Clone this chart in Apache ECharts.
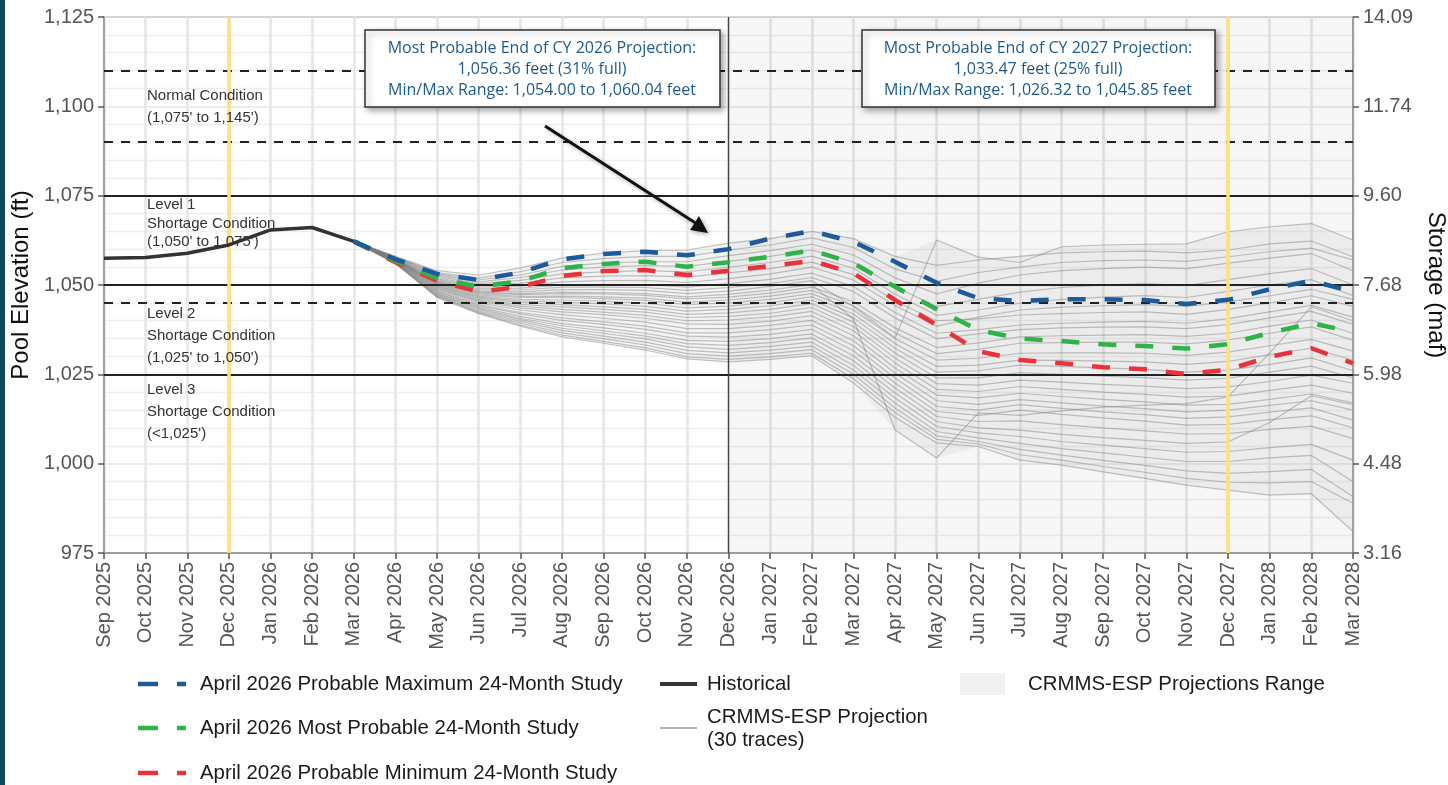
<!DOCTYPE html>
<html>
<head>
<meta charset="utf-8">
<title>Lake Mead 24-Month Study Projections</title>
<script src="https://cdn.jsdelivr.net/npm/echarts@6/dist/echarts.min.js"></script>
<style>
  html, body { margin: 0; padding: 0; background: #fff; }
  #chart { width: 1448px; height: 785px; }
</style>
</head>
<body>
<div id="chart"></div>
<script>
// months on the x axis
const months = ['Sep 2025', 'Oct 2025', 'Nov 2025', 'Dec 2025', 'Jan 2026', 'Feb 2026', 'Mar 2026',
  'Apr 2026', 'May 2026', 'Jun 2026', 'Jul 2026', 'Aug 2026', 'Sep 2026', 'Oct 2026', 'Nov 2026',
  'Dec 2026', 'Jan 2027', 'Feb 2027', 'Mar 2027', 'Apr 2027', 'May 2027', 'Jun 2027', 'Jul 2027',
  'Aug 2027', 'Sep 2027', 'Oct 2027', 'Nov 2027', 'Dec 2027', 'Jan 2028', 'Feb 2028', 'Mar 2028'];

const elevationTicks = [975, 1000, 1025, 1050, 1075, 1100, 1125];
const storageLabels = ['3.16', '4.48', '5.98', '7.68', '9.60', '11.74', '14.09'];

// Sep 2025 .. Mar 2026
const historical = [1057.5, 1057.7, 1058.9, 1061.2, 1065.4, 1066.1, 1062.2];

// projections start at Mar 2026 (index 6)
const projStart = 6;
const probMax = [1062.2, 1057.2, 1053.1, 1051.4, 1053.5, 1057.2, 1058.7, 1059.3, 1058.3, 1060.04, 1063.0, 1065.1, 1062.1,
  1056.5, 1050.6, 1046.3, 1045.5, 1046.0, 1046.0, 1045.8, 1044.7, 1045.85, 1048.8, 1051.2, 1048.1];
const mostProb = [1062.2, 1056.8, 1051.9, 1049.5, 1051.1, 1054.7, 1055.9, 1056.5, 1055.1, 1056.36, 1057.9, 1059.7, 1056.1,
  1049.5, 1043.2, 1037.4, 1035.0, 1034.3, 1033.4, 1032.9, 1032.2, 1033.47, 1036.6, 1039.3, 1036.9];
const probMin = [1062.2, 1056.4, 1051.2, 1048.1, 1049.5, 1052.5, 1053.9, 1054.2, 1052.8, 1054.00, 1055.3, 1056.8, 1053.3,
  1045.8, 1038.8, 1031.5, 1029.0, 1028.1, 1027.0, 1026.4, 1025.1, 1026.32, 1029.9, 1032.3, 1028.1];

// CRMMS-ESP traces, Mar 2026 .. Mar 2028
const trace01 = [1062.2, 1058.0, 1054.0, 1052.8, 1054.8, 1057.5, 1058.9, 1059.6, 1059.8, 1061.7, 1063.0, 1065.0, 1063.0, 1058.0, 1055.5, 1057.0, 1058.0, 1059.0, 1059.3, 1059.5, 1059.0, 1059.8, 1061.5, 1062.3, 1057.9];
const trace02 = [1062.2, 1057.9, 1053.5, 1051.9, 1053.7, 1056.3, 1057.4, 1058.0, 1058.0, 1059.8, 1061.2, 1063.2, 1060.5, 1054.5, 1051.0, 1053.5, 1055.0, 1056.3, 1056.8, 1057.0, 1056.6, 1057.9, 1059.3, 1060.3, 1057.0];
const trace03 = [1062.2, 1057.8, 1053.2, 1051.4, 1052.8, 1055.2, 1056.1, 1056.5, 1056.5, 1058.2, 1059.6, 1061.4, 1058.4, 1052.0, 1047.5, 1050.5, 1052.8, 1054.0, 1054.6, 1055.0, 1054.6, 1056.1, 1057.5, 1058.8, 1054.0];
const trace04 = [1062.2, 1057.7, 1052.9, 1050.9, 1052.1, 1054.2, 1055.0, 1055.4, 1055.2, 1056.6, 1058.0, 1059.8, 1056.4, 1049.5, 1044.0, 1046.0, 1048.0, 1049.3, 1050.0, 1050.4, 1049.8, 1051.5, 1053.2, 1054.6, 1050.0];
const trace05 = [1062.2, 1057.6, 1052.5, 1050.4, 1051.3, 1053.1, 1053.7, 1054.0, 1053.7, 1055.0, 1056.3, 1058.1, 1054.7, 1047.5, 1041.5, 1043.0, 1044.9, 1046.0, 1046.6, 1047.0, 1046.5, 1048.2, 1050.0, 1051.5, 1047.0];
const trace06 = [1062.2, 1057.5, 1052.1, 1049.9, 1050.5, 1052.0, 1052.5, 1052.6, 1052.2, 1053.4, 1054.6, 1056.4, 1052.9, 1045.5, 1040.0, 1040.5, 1041.6, 1042.0, 1042.3, 1042.5, 1041.8, 1043.2, 1045.0, 1047.0, 1044.0];
const trace07 = [1062.2, 1057.4, 1051.8, 1049.4, 1049.7, 1050.9, 1051.2, 1051.3, 1050.7, 1051.8, 1053.1, 1055.0, 1051.4, 1044.2, 1038.5, 1041.0, 1043.0, 1043.8, 1044.2, 1044.5, 1044.0, 1045.3, 1047.0, 1048.8, 1046.0];
const trace08 = [1062.2, 1057.3, 1051.5, 1048.9, 1049.1, 1050.0, 1050.2, 1050.1, 1049.4, 1050.4, 1051.6, 1053.3, 1049.6, 1042.3, 1036.5, 1037.5, 1038.8, 1039.3, 1039.6, 1039.8, 1039.3, 1040.6, 1042.5, 1044.3, 1041.0];
const trace09 = [1062.2, 1057.3, 1051.2, 1048.6, 1048.6, 1049.4, 1049.4, 1049.3, 1048.5, 1049.3, 1050.4, 1052.1, 1048.2, 1040.8, 1035.0, 1036.3, 1037.5, 1038.0, 1038.2, 1038.3, 1037.8, 1038.9, 1040.8, 1042.6, 1039.0];
const trace10 = [1062.2, 1057.2, 1051.0, 1048.3, 1048.1, 1048.7, 1048.7, 1048.5, 1047.6, 1048.3, 1049.6, 1051.2, 1044.0, 1035.2, 1062.6, 1057.8, 1056.3, 1060.7, 1061.2, 1061.4, 1061.5, 1064.9, 1066.3, 1067.2, 1062.6];
const trace11 = [1062.2, 1057.1, 1050.8, 1048.0, 1047.6, 1048.0, 1047.9, 1047.6, 1046.7, 1047.4, 1048.6, 1050.1, 1040.5, 1009.4, 1001.6, 1014.2, 1013.5, 1014.8, 1015.8, 1016.4, 1016.8, 1018.7, 1031.0, 1043.9, 1040.0];
const trace12 = [1062.2, 1057.1, 1050.6, 1047.8, 1047.3, 1047.6, 1047.5, 1047.1, 1046.1, 1046.6, 1047.7, 1049.4, 1045.3, 1038.0, 1032.5, 1033.8, 1035.5, 1035.8, 1036.0, 1036.1, 1035.6, 1036.5, 1038.5, 1040.2, 1036.5];
const trace13 = [1062.2, 1057.0, 1050.4, 1047.5, 1046.8, 1046.9, 1046.7, 1046.3, 1045.2, 1045.8, 1046.9, 1048.5, 1044.2, 1036.6, 1030.8, 1032.0, 1033.7, 1033.9, 1034.0, 1034.0, 1033.5, 1034.6, 1036.5, 1038.3, 1034.5];
const trace14 = [1062.2, 1057.0, 1050.2, 1047.2, 1046.5, 1046.5, 1046.2, 1045.7, 1044.5, 1045.0, 1046.0, 1047.6, 1043.0, 1035.0, 1029.0, 1029.5, 1030.9, 1031.0, 1031.0, 1030.9, 1030.3, 1031.2, 1033.0, 1034.8, 1031.5];
const trace15 = [1062.2, 1056.9, 1050.0, 1046.9, 1046.0, 1045.8, 1045.5, 1044.9, 1043.6, 1044.1, 1045.1, 1046.7, 1041.9, 1033.6, 1027.2, 1027.6, 1029.0, 1028.9, 1028.7, 1028.5, 1027.8, 1028.6, 1030.5, 1032.3, 1029.0];
const trace16 = [1062.2, 1056.9, 1049.8, 1046.6, 1045.5, 1045.2, 1044.7, 1044.0, 1042.7, 1043.2, 1044.2, 1045.8, 1040.8, 1032.3, 1025.6, 1026.0, 1027.6, 1027.2, 1026.8, 1026.4, 1025.6, 1026.2, 1027.8, 1029.6, 1026.0];
const trace17 = [1062.2, 1056.8, 1049.6, 1046.3, 1045.1, 1044.5, 1043.9, 1043.2, 1041.8, 1042.2, 1043.2, 1044.8, 1039.6, 1031.0, 1024.0, 1024.0, 1025.5, 1025.0, 1024.5, 1024.1, 1023.4, 1023.9, 1025.6, 1027.3, 1024.0];
const trace18 = [1062.2, 1056.8, 1049.4, 1046.0, 1044.6, 1043.9, 1043.2, 1042.4, 1040.9, 1041.2, 1042.1, 1043.7, 1038.4, 1029.6, 1022.4, 1022.0, 1023.4, 1022.8, 1022.2, 1021.7, 1021.0, 1021.5, 1023.0, 1024.8, 1022.5];
const trace19 = [1062.2, 1056.7, 1049.1, 1045.7, 1044.1, 1043.2, 1042.4, 1041.5, 1040.0, 1040.2, 1041.1, 1042.6, 1037.2, 1028.2, 1020.8, 1020.2, 1021.6, 1020.8, 1020.0, 1019.4, 1018.6, 1018.9, 1020.5, 1022.0, 1019.7];
const trace20 = [1062.2, 1056.6, 1048.9, 1045.4, 1043.6, 1042.5, 1041.7, 1040.7, 1039.1, 1039.0, 1039.9, 1041.4, 1035.8, 1026.8, 1019.2, 1018.4, 1019.7, 1018.8, 1018.0, 1017.3, 1016.4, 1016.6, 1018.0, 1019.5, 1017.0];
const trace21 = [1062.2, 1056.6, 1048.6, 1045.0, 1043.0, 1041.7, 1040.7, 1039.6, 1037.8, 1037.8, 1038.7, 1040.1, 1034.4, 1025.4, 1017.6, 1016.6, 1017.9, 1017.0, 1016.1, 1015.4, 1014.5, 1015.0, 1016.3, 1017.6, 1015.0];
const trace22 = [1062.2, 1056.5, 1048.3, 1044.5, 1042.3, 1040.8, 1039.7, 1038.5, 1036.6, 1036.6, 1037.5, 1038.8, 1033.0, 1024.0, 1016.0, 1015.0, 1016.5, 1015.5, 1014.5, 1013.7, 1012.7, 1013.1, 1014.4, 1015.6, 1012.2];
const trace23 = [1062.2, 1056.4, 1048.1, 1044.2, 1041.9, 1040.1, 1039.0, 1037.6, 1035.7, 1035.4, 1036.2, 1037.6, 1031.6, 1022.6, 1014.6, 1013.5, 1015.0, 1013.8, 1012.8, 1011.9, 1010.8, 1011.0, 1012.3, 1013.4, 1010.0];
const trace24 = [1062.2, 1056.3, 1047.8, 1043.8, 1041.2, 1039.2, 1038.0, 1036.5, 1034.5, 1034.2, 1035.0, 1036.3, 1030.2, 1021.2, 1013.2, 1011.8, 1012.0, 1010.9, 1010.0, 1009.2, 1008.3, 1008.4, 1009.6, 1010.5, 1007.0];
const trace25 = [1062.2, 1056.3, 1047.6, 1043.5, 1040.7, 1038.6, 1037.2, 1035.7, 1033.6, 1033.1, 1033.9, 1035.2, 1028.8, 1019.8, 1011.8, 1010.0, 1009.4, 1008.2, 1007.3, 1006.5, 1005.7, 1006.1, 1011.5, 1019.0, 1016.5];
const trace26 = [1062.2, 1056.2, 1047.3, 1043.2, 1040.3, 1037.9, 1036.5, 1034.9, 1032.7, 1032.0, 1032.8, 1034.0, 1027.5, 1018.4, 1010.4, 1008.6, 1007.6, 1006.2, 1005.2, 1004.2, 1003.2, 1003.4, 1004.5, 1005.4, 1001.0];
const trace27 = [1062.2, 1056.2, 1047.1, 1042.8, 1039.8, 1037.3, 1035.7, 1034.0, 1031.7, 1031.0, 1031.8, 1032.9, 1026.2, 1017.0, 1009.0, 1007.2, 1005.7, 1004.2, 1003.0, 1001.8, 1000.6, 1000.6, 1001.6, 1002.3, 995.0];
const trace28 = [1062.2, 1056.1, 1046.9, 1042.5, 1039.3, 1036.6, 1035.0, 1033.2, 1030.8, 1030.1, 1030.8, 1031.9, 1025.0, 1015.6, 1007.8, 1006.2, 1004.0, 1002.4, 1000.9, 999.5, 998.0, 997.3, 997.8, 998.4, 990.8];
const trace29 = [1062.2, 1056.0, 1046.7, 1042.2, 1038.8, 1036.0, 1034.2, 1032.4, 1029.9, 1029.2, 1029.9, 1030.9, 1023.8, 1014.3, 1006.8, 1005.5, 1002.5, 1001.0, 999.2, 997.6, 995.9, 994.8, 994.6, 995.0, 988.9];
const trace30 = [1062.2, 1056.0, 1046.5, 1042.0, 1038.5, 1035.5, 1033.7, 1031.8, 1029.3, 1028.5, 1029.2, 1030.2, 1022.6, 1013.0, 1005.8, 1004.8, 1001.0, 999.6, 997.7, 995.9, 994.0, 992.6, 991.2, 991.6, 981.0];

const traces = [trace01, trace02, trace03, trace04, trace05, trace06, trace07, trace08, trace09, trace10,
  trace11, trace12, trace13, trace14, trace15, trace16, trace17, trace18, trace19, trace20,
  trace21, trace22, trace23, trace24, trace25, trace26, trace27, trace28, trace29, trace30];

// condition thresholds
const solidLevels = [1075, 1050, 1025];
const dashedLevels = [1110, 1090, 1045];

const FONT = '"Liberation Sans", Arial, sans-serif';
const BOXFONT = '"Open Sans", "Noto Sans", sans-serif';

const pad = (arr) => months.map((m, i) => (i < projStart ? null : arr[i - projStart]));
const thousands = (v) => String(v).replace(/\B(?=(\d{3})+(?!\d))/g, ',');

// range band from the traces
const bandLow = months.map((m, i) => (i < projStart ? null : Math.min(...traces.map(t => t[i - projStart]))));
const bandSpan = months.map((m, i) => (i < projStart ? null : Math.max(...traces.map(t => t[i - projStart])) - bandLow[i]));

const chart = echarts.init(document.getElementById('chart'));

const traceSeries = traces.map((t) => ({
  name: 'CRMMS-ESP Projection',
  type: 'line',
  data: pad(t),
  symbol: 'none',
  z: 3,
  lineStyle: { color: 'rgba(125,125,125,0.45)', width: 1.2 },
  silent: true
}));

const refLines = [];
solidLevels.forEach(v => refLines.push({ yAxis: v, lineStyle: { color: '#222', width: 2, type: 'solid' } }));
dashedLevels.forEach(v => refLines.push({ yAxis: v, lineStyle: { color: '#222', width: 1.8, type: [9, 8] } }));
refLines.push({ xAxis: 'Dec 2025', lineStyle: { color: '#ffdf80', width: 3.5, type: 'solid' } });
refLines.push({ xAxis: 'Dec 2027', lineStyle: { color: '#ffdf80', width: 3.5, type: 'solid' } });
refLines.push({ xAxis: 'Dec 2026', lineStyle: { color: '#444', width: 1.3, type: 'solid' } });

const dashed = (name, data, color, z) => ({
  name: name,
  type: 'line',
  data: pad(data),
  symbol: 'none',
  z: z,
  lineStyle: { color: color, width: 4.5, type: [18, 19] }
});

const text = (x, y, str, size, color) => ({
  type: 'text', z: 100,
  style: { x: x, y: y, text: str, font: size + 'px ' + FONT, fill: color || '#222',
    textAlign: 'left', textVerticalAlign: 'middle', align: 'left', verticalAlign: 'middle' }
});

const ctext = (x, y, str) => ({
  type: 'text', z: 102,
  style: { x: x, y: y, text: str, font: '16px ' + BOXFONT, fill: '#1d5a8c',
    textAlign: 'center', textVerticalAlign: 'middle', align: 'center', verticalAlign: 'middle' }
});

const box = (x, y, w, h) => ({
  type: 'rect', z: 101,
  shape: { x: x, y: y, width: w, height: h },
  style: { fill: '#fff', stroke: '#333', lineWidth: 1.5,
    shadowBlur: 6, shadowColor: 'rgba(0,0,0,0.35)', shadowOffsetX: 3, shadowOffsetY: 3 }
});

const legendLine = (y, color) => ({
  type: 'line', z: 100,
  shape: { x1: 138, y1: y, x2: 186, y2: y },
  style: { stroke: color, lineWidth: 4.5, lineDash: [20, 19] }
});

const graphics = [
  { type: 'rect', z: 100, shape: { x: 0, y: 0, width: 5, height: 785 }, style: { fill: '#0e4a5c' } },
  // annotation boxes
  box(365, 30, 355, 77),
  ctext(542, 48, 'Most Probable End of CY 2026 Projection:'),
  ctext(542, 69, '1,056.36 feet (31% full)'),
  ctext(542, 90, 'Min/Max Range: 1,054.00 to 1,060.04 feet'),
  box(862, 30, 353, 77),
  ctext(1038, 48, 'Most Probable End of CY 2027 Projection:'),
  ctext(1038, 69, '1,033.47 feet (25% full)'),
  ctext(1038, 90, 'Min/Max Range: 1,026.32 to 1,045.85 feet'),
  // arrow
  { type: 'line', z: 100, shape: { x1: 545, y1: 126, x2: 697, y2: 224 },
    style: { stroke: '#111', lineWidth: 3, shadowBlur: 4, shadowColor: 'rgba(0,0,0,0.3)', shadowOffsetX: 2, shadowOffsetY: 2 } },
  { type: 'polygon', z: 100, shape: { points: [[708, 233], [690, 230], [699, 216]] },
    style: { fill: '#111', shadowBlur: 4, shadowColor: 'rgba(0,0,0,0.3)', shadowOffsetX: 2, shadowOffsetY: 2 } },
  // condition labels
  text(147, 96, 'Normal Condition', 15, '#333'),
  text(147, 118, "(1,075' to 1,145')", 15, '#333'),
  text(147, 205, 'Level 1', 15, '#333'),
  text(147, 224, 'Shortage Condition', 15, '#333'),
  text(147, 242, "(1,050' to 1,075')", 15, '#333'),
  text(147, 314, 'Level 2', 15, '#333'),
  text(147, 336, 'Shortage Condition', 15, '#333'),
  text(147, 358, "(1,025' to 1,050')", 15, '#333'),
  text(147, 390, 'Level 3', 15, '#333'),
  text(147, 412, 'Shortage Condition', 15, '#333'),
  text(147, 434, "(<1,025')", 15, '#333'),
  // legend
  legendLine(684, '#1d5a9c'),
  text(200, 684, 'April 2026 Probable Maximum 24-Month Study', 20.4, '#1a1a1a'),
  legendLine(728, '#2db34a'),
  text(200, 728, 'April 2026 Most Probable 24-Month Study', 20.4, '#1a1a1a'),
  legendLine(773, '#e8333c'),
  text(200, 773, 'April 2026 Probable Minimum 24-Month Study', 20.4, '#1a1a1a'),
  { type: 'line', z: 100, shape: { x1: 660, y1: 684, x2: 697, y2: 684 }, style: { stroke: '#333', lineWidth: 4 } },
  text(707, 684, 'Historical', 20.4, '#1a1a1a'),
  { type: 'line', z: 100, shape: { x1: 660, y1: 728, x2: 697, y2: 728 }, style: { stroke: '#999', lineWidth: 1.5 } },
  text(707, 717, 'CRMMS-ESP Projection', 20.4, '#1a1a1a'),
  text(707, 740, '(30 traces)', 20.4, '#1a1a1a'),
  { type: 'rect', z: 100, shape: { x: 960, y: 673, width: 45, height: 22 }, style: { fill: '#f1f1f1' } },
  text(1028, 684, 'CRMMS-ESP Projections Range', 20.4, '#1a1a1a')
];

const option = {
  animation: false,
  backgroundColor: '#fff',
  grid: { left: 104, right: 95, top: 17, bottom: 232, show: true, borderColor: '#8c8c8c', borderWidth: 1.5,
    outerBoundsMode: 'none', containLabel: false },
  xAxis: {
    type: 'category',
    data: months,
    boundaryGap: false,
    axisLine: { lineStyle: { color: '#8c8c8c', width: 1.5 } },
    axisTick: { show: true, interval: 0, length: 6, lineStyle: { color: '#555', width: 1.5 } },
    axisLabel: { interval: 0, rotate: 90, fontSize: 20, color: '#555', margin: 9, fontFamily: FONT },
    splitLine: { show: true, interval: 0, lineStyle: { color: '#e6e6e6', width: 2.5 } }
  },
  yAxis: [
    {
      type: 'value', min: elevationTicks[0], max: elevationTicks[elevationTicks.length - 1], interval: 25,
      position: 'left',
      name: 'Pool Elevation (ft)', nameLocation: 'middle', nameGap: 70, nameRotate: 90,
      nameTextStyle: { fontSize: 24, color: '#111', fontFamily: FONT },
      axisLine: { show: true, lineStyle: { color: '#8c8c8c', width: 1.5 } },
      axisTick: { show: true, length: 6, lineStyle: { color: '#555', width: 1.5 } },
      axisLabel: { fontSize: 20, color: '#555', margin: 10, fontFamily: FONT, formatter: thousands },
      splitLine: { show: true, lineStyle: { color: '#e6e6e6', width: 1.5 } },
      minorTick: { show: false, splitNumber: 5 },
      minorSplitLine: { show: true, lineStyle: { color: '#efefef', width: 1.3 } }
    },
    {
      type: 'value', min: elevationTicks[0], max: elevationTicks[elevationTicks.length - 1], interval: 25,
      position: 'right',
      name: 'Storage (maf)', nameLocation: 'middle', nameGap: 66, nameRotate: -90,
      nameTextStyle: { fontSize: 24, color: '#111', fontFamily: FONT },
      axisLine: { show: true, lineStyle: { color: '#8c8c8c', width: 1.5 } },
      axisTick: { show: true, length: 6, lineStyle: { color: '#555', width: 1.5 } },
      axisLabel: { fontSize: 20, color: '#555', margin: 10, fontFamily: FONT,
        formatter: (v) => storageLabels[elevationTicks.indexOf(v)] },
      splitLine: { show: false }
    }
  ],
  series: [
    {
      name: 'range-low', type: 'line', data: bandLow, stack: 'range', symbol: 'none', z: 1,
      lineStyle: { opacity: 0 }, silent: true,
      markArea: {
        silent: true,
        itemStyle: { color: 'rgba(0,0,0,0.035)' },
        data: [[{ xAxis: 'Dec 2026' }, { xAxis: 'Mar 2028' }]]
      }
    },
    {
      name: 'CRMMS-ESP Projections Range', type: 'line', data: bandSpan, stack: 'range', symbol: 'none', z: 2,
      lineStyle: { opacity: 0 }, areaStyle: { color: 'rgba(200,200,200,0.3)' }, silent: true
    },
    ...traceSeries,
    {
      name: 'reference', type: 'line', data: [], z: 4, silent: true,
      markLine: { silent: true, symbol: ['none', 'none'], label: { show: false }, data: refLines }
    },
    {
      name: 'Historical', type: 'line', data: historical, symbol: 'none', z: 5,
      lineStyle: { color: '#333', width: 3.5 }
    },
    dashed('April 2026 Probable Minimum 24-Month Study', probMin, '#e8333c', 6),
    dashed('April 2026 Most Probable 24-Month Study', mostProb, '#2db34a', 7),
    dashed('April 2026 Probable Maximum 24-Month Study', probMax, '#1d5a9c', 8)
  ],
  graphic: graphics
};

chart.setOption(option);
window.onresize = function () { chart.resize(); };
</script>
</body>
</html>
